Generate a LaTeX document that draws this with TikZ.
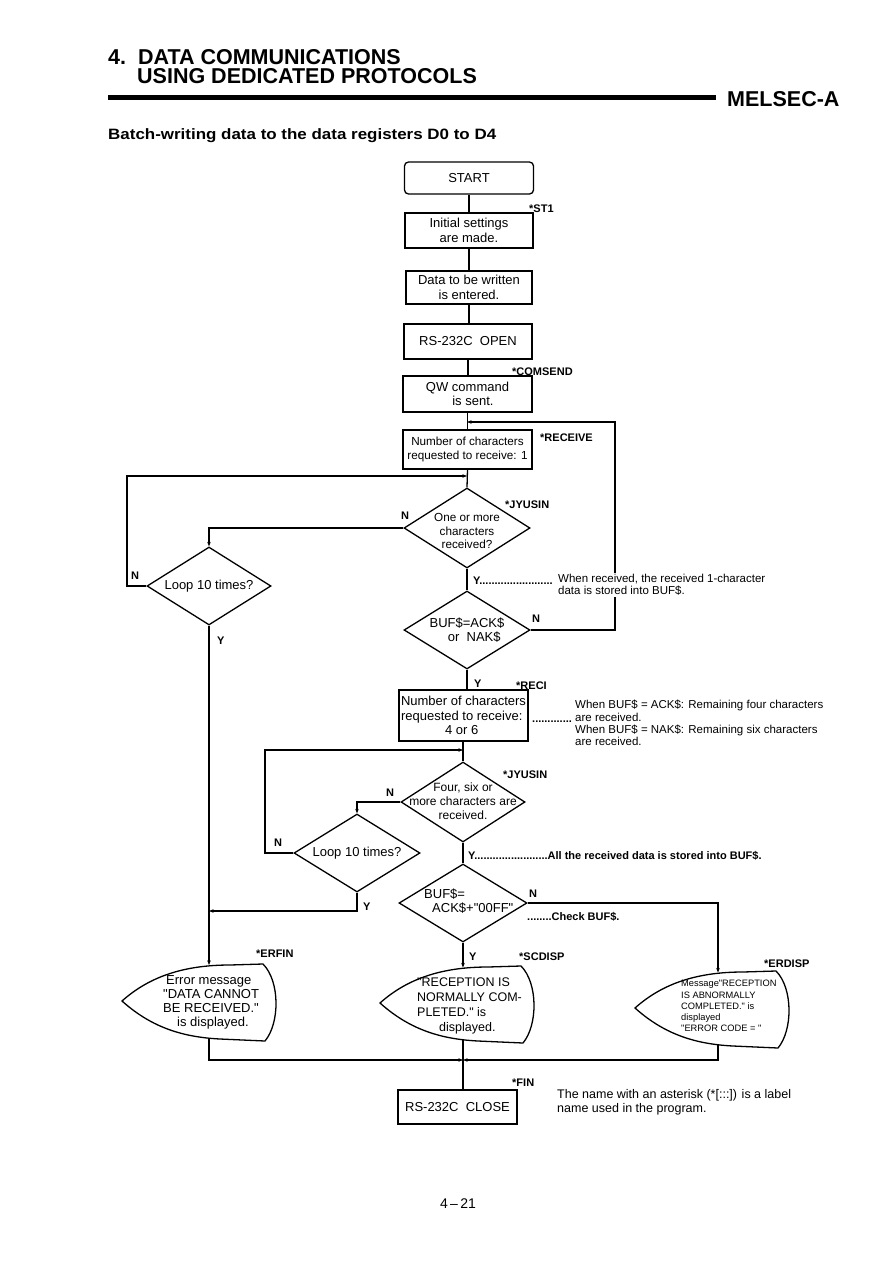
\documentclass[tikz,border=0pt]{standalone}
\usepackage{fontspec}
\usepackage{graphicx}
\setmainfont{Liberation Sans}
\usetikzlibrary{shapes.geometric,arrows.meta}
\newcommand{\fzBox}{\fontsize{13}{14.5}\selectfont}
\newcommand{\fzSm}{\fontsize{11.7}{13.5}\selectfont}
\newcommand{\fzLab}{\fontsize{11}{12}\selectfont\bfseries}
\newcommand{\fzNote}{\fontsize{11.5}{12.3}\selectfont}
\newcommand{\qq}{\textquotedbl}
\begin{document}
\begin{tikzpicture}[x=1pt,y=-1pt,
  ln/.style={line width=1.3pt},
  arr/.style={line width=1.3pt,-{Stealth[length=4.5pt,width=3.5pt]}},
  box/.style={draw,line width=1.3pt,inner sep=1pt,align=center,font=\fzBox},
  dia/.style={draw,diamond,inner sep=0pt,line width=1.3pt},
  dtxt/.style={align=center,font=\fzBox,inner sep=0pt},
  lab/.style={anchor=base west,inner sep=0pt,font=\fzLab},
  note/.style={anchor=north west,inner sep=0pt,align=left,font=\fzNote},
  disp/.pic={\draw[line width=1.3pt] (0,0) .. controls (28,-25) and (63,-36) .. (108,-36) -- (141,-37) .. controls (158,-20) and (158,22) .. (143,40) -- (98,38) .. controls (58,36) and (28,25) .. (0,0) -- cycle;}
]
\fill[white] (0,0) rectangle (893,1263);
\useasboundingbox (0,0) rectangle (893,1263);

% header
\node[anchor=base west,inner sep=0pt,font=\fontsize{21.5}{24}\selectfont\bfseries] (h1) at (108,64) {4.\ \ DATA COMMUNICATIONS};
\node[anchor=base west,inner sep=0pt,font=\fontsize{21.5}{24}\selectfont\bfseries] (h2) at (137,84) {USING DEDICATED PROTOCOLS};
\draw[line width=5pt] (108,97) -- (716,97);
\node[anchor=base west,inner sep=0pt,font=\fontsize{21.5}{24}\selectfont\bfseries] (h3) at (727,106) {MELSEC-A};
\node[anchor=base west,inner sep=0pt,font=\fontsize{15}{17}\selectfont\bfseries] (h4) at (108,139) {\scalebox{1.13}[1]{Batch-writing data to the data registers D0 to D4}};

% main column
\node[box,rounded corners=4pt,minimum width=129pt,minimum height=32pt] (start) at (469,178) {START};
\node[box,minimum width=128pt,minimum height=35pt] (init) at (469,230.5) {Initial settings\\are made.};
\node[box,minimum width=126pt,minimum height=33pt] (data) at (469,287.5) {Data to be written\\is entered.};
\node[box,minimum width=128pt,minimum height=35pt] (open) at (468,341.5) {RS-232C\ \ OPEN};
\node[box,minimum width=129pt,minimum height=36pt] (qw) at (467.5,394) {QW command\\\ \ \ is sent.};
\node[box,font=\fzSm,minimum width=129pt,minimum height=39pt] (rc1) at (467.5,449.5) {Number of characters\\requested to receive: 1};

\node[dia,minimum width=126pt,minimum height=80pt] (d1) at (467,528) {};
\node[dtxt,font=\fzSm] (d1t) at (467,531) {One or more\\characters\\received?};
\node[dia,minimum width=126pt,minimum height=78pt] (buf) at (467,630) {};
\node[dtxt] (buft) at (467,630) {BUF\$=ACK\$\\\ \ \ \ or\ \ NAK\$};

\node[box,minimum width=127pt,minimum height=51pt,align=left,inner sep=2pt] (rc46) at (463.5,715.5) {Number of characters\\requested to receive:\\\hspace*{44pt}4 or 6};

\node[dia,minimum width=124pt,minimum height=80pt] (d2) at (463,802) {};
\node[dtxt,font=\fontsize{12}{14}\selectfont] (d2t) at (463,801) {Four, six or\\more characters are\\received.};
\node[dia,minimum width=128pt,minimum height=78pt] (d3) at (463,903) {};
\node[dtxt,align=left,anchor=west] (d3t) at (424,901) {BUF\$=\\\hspace*{8pt}ACK\$+\qq00FF\qq};

\node[dia,minimum width=124pt,minimum height=78pt] (loop1) at (209,586) {};
\node[dtxt] (loop1t) at (209,586) {Loop 10 times?};
\node[dia,minimum width=126pt,minimum height=78pt] (loop2) at (357,853) {};
\node[dtxt] (loop2t) at (357,853) {Loop 10 times?};

\node[box,minimum width=119pt,minimum height=34pt] (close) at (457.5,1107) {RS-232C\ \ CLOSE};

% displays
\pic at (122,1001) {disp};
\pic at (380,1003) {disp};
\pic at (635,1008) {disp};
\node[note,font=\fontsize{13}{14}\selectfont] (errt) at (163,975) {\hspace*{3pt}Error message\\\qq DATA CANNOT\\BE RECEIVED.\qq\\\hspace*{14pt}is displayed.};
\node[note,font=\fontsize{12.5}{15}\selectfont] (normt) at (417,978) {\qq RECEPTION IS\\NORMALLY COM-\\PLETED.\qq\ is\\\hspace*{22pt}displayed.};
\node[note,font=\fontsize{9.3}{11.3}\selectfont] (erdt) at (681,980) {Message\qq RECEPTION\\IS ABNORMALLY\\COMPLETED.\qq\ is\\displayed\\\qq ERROR CODE = \qq};

% junction coordinates
\coordinate (jA) at (467,422);
\coordinate (jB) at (467,476);
\coordinate (rx) at (615,422);
\coordinate (lx1) at (127,476);
\coordinate (jC) at (463,750);
\coordinate (lx2) at (265,750);
\coordinate (jE) at (209,911);
\coordinate (errtop) at (209,965);
\coordinate (errbot) at (209,1039);
\coordinate (normtop) at (463,967.5);
\coordinate (normbot) at (463,1040);
\coordinate (erdtop) at (718,972.5);
\coordinate (erdbot) at (718,1045);
\coordinate (jD) at (463,1060);

% connectors
\draw[ln] (start) -- (init);
\draw[ln] (init) -- (data);
\draw[ln] (data.south) -- (data.south |- open.north);
\draw[ln] (open.south) -- (open.south |- qw.north);
\draw[ln] (qw.south) -- (qw.south |- rc1.north);
\draw[ln] (rc1.south) -- (d1.north);
\draw[arr] (buf.east) -| (rx) -- (jA);
\draw[arr] (loop1.west) -| (lx1) -- (jB);
\draw[arr] (d1.west) -| (loop1.north);
\draw[ln] (d1.south) -- (buf.north);
\draw[ln] (buf.south) -- (buf.south |- rc46.north);
\draw[ln] (rc46.south -| jC) -- (d2.north);
\draw[arr] (loop2.west) -| (lx2) -- (jC);
\draw[arr] (d2.west) -| (loop2.north);
\draw[ln] (d2.south) -- (d3.north);
\draw[arr] (loop2.south) |- (jE);
\draw[arr] (loop1.south) -- (errtop);
\draw[arr] (d3.east) -| (erdtop);
\draw[arr] (d3.south) -- (normtop);
\draw[arr] (errbot) |- (jD);
\draw[arr] (erdbot) |- (jD);
\draw[ln] (normbot) -- (normbot |- close.north);

% labels
\node[lab] (lST1) at (529,212) {*ST1};
\node[lab] (lCOM) at (512,375) {*COMSEND};
\node[lab] (lREC) at (540,441) {*RECEIVE};
\node[lab] (lJY1) at (505,508) {*JYUSIN};
\node[lab] (lN1) at (401,519) {N};
\node[lab] (lN2) at (131,579) {N};
\node[lab] (lY1) at (217,644) {Y};
\node[lab] (lY2) at (473,584) {Y........................};
\node[note,fill=white,inner sep=1pt] (nt1) at (557,573) {When received, the received 1-character\\data is stored into BUF\$.};
\node[lab] (lN3) at (532,622) {N};
\node[lab] (lY3) at (474,687) {Y};
\node[lab] (lRECI) at (516,689) {*RECI};
\node[lab] (ldots) at (532,722) {.............};
\node[note] (nt2) at (575,700) {When BUF\$ = ACK\$: Remaining four characters\\are received.\\When BUF\$ = NAK\$: Remaining six characters\\are received.};
\node[lab] (lJY2) at (503,778) {*JYUSIN};
\node[lab] (lN4) at (386,796) {N};
\node[lab] (lN5) at (274,846) {N};
\node[lab] (lY4) at (468,859) {Y........................All the received data is stored into BUF\$.};
\node[lab] (lY5) at (363,910) {Y};
\node[lab] (lN6) at (529,897) {N};
\node[lab] (lchk) at (527,920) {........Check BUF\$.};
\node[lab] (lERF) at (256,957) {*ERFIN};
\node[lab] (lY6) at (469,960) {Y};
\node[lab] (lSCD) at (519,960) {*SCDISP};
\node[lab] (lERD) at (764,967) {*ERDISP};
\node[lab] (lFIN) at (512,1086) {*FIN};
\node[note,font=\fontsize{12.5}{14}\selectfont] (nt3) at (557,1089) {The name with an asterisk (*[:::]) is a label\\name used in the program.};
\node[inner sep=0pt,font=\fontsize{14}{16}\selectfont] (page) at (458,1204) {4\,--\,21};
\end{tikzpicture}
\end{document}
